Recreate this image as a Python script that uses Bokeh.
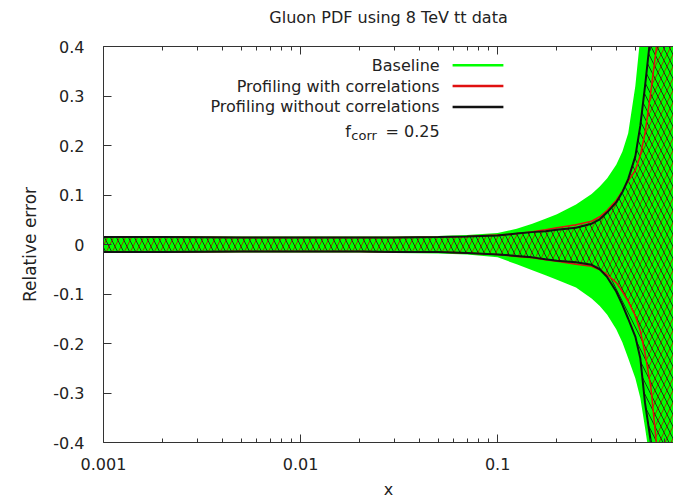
from bokeh.plotting import figure
from bokeh.models import FixedTicker, Label, Arrow, Range1d, LogAxis
from bokeh.embed import file_html
from bokeh.resources import INLINE

# ---------------- data ----------------
x = [0.001, 0.002, 0.005, 0.01, 0.02, 0.03, 0.05, 0.07, 0.1, 0.125, 0.15, 0.175, 0.2, 0.25,
     0.3, 0.33, 0.36, 0.4, 0.43, 0.46, 0.5, 0.53, 0.56, 0.6, 0.65, 0.7, 0.75, 0.8]

baseline_hi = [0.017, 0.017, 0.016, 0.016, 0.016, 0.016, 0.017, 0.019, 0.023, 0.032, 0.042, 0.052, 0.061, 0.081,
               0.102, 0.117, 0.134, 0.161, 0.188, 0.225, 0.32, 0.42, 0.55, 0.75, 1.0, 1.3, 1.6, 2.0]
baseline_lo = [-0.017, -0.017, -0.016, -0.016, -0.016, -0.017, -0.018, -0.020, -0.026, -0.040, -0.052, -0.062, -0.071, -0.087,
               -0.109, -0.124, -0.142, -0.171, -0.198, -0.230, -0.270, -0.31, -0.37, -0.45, -0.6, -0.8, -1.0, -1.2]

corr_hi = [0.015, 0.015, 0.014, 0.014, 0.014, 0.014, 0.015, 0.016, 0.019, 0.022, 0.026, 0.030, 0.034, 0.040,
           0.047, 0.056, 0.069, 0.089, 0.108, 0.128, 0.150, 0.18, 0.225, 0.31, 0.42, 0.6, 0.8, 1.0]
corr_lo = [-0.015, -0.015, -0.014, -0.014, -0.014, -0.015, -0.015, -0.017, -0.020, -0.024, -0.027, -0.031, -0.034, -0.040,
           -0.044, -0.051, -0.061, -0.077, -0.095, -0.115, -0.144, -0.175, -0.22, -0.29, -0.43, -0.6, -0.8, -1.0]

nocorr_hi = [0.015, 0.015, 0.014, 0.014, 0.014, 0.014, 0.015, 0.016, 0.018, 0.022, 0.025, 0.027, 0.030, 0.034,
             0.042, 0.051, 0.065, 0.085, 0.106, 0.132, 0.178, 0.24, 0.32, 0.43, 0.6, 0.8, 1.0, 1.2]
nocorr_lo = [-0.015, -0.015, -0.014, -0.014, -0.014, -0.015, -0.015, -0.017, -0.020, -0.023, -0.026, -0.030, -0.033, -0.036,
             -0.041, -0.050, -0.066, -0.095, -0.122, -0.150, -0.186, -0.23, -0.32, -0.40, -0.55, -0.7, -0.85, -1.0]

x_major_ticks = [0.001, 0.01, 0.1]
x_tick_labels = ["0.001", "0.01", "0.1"]
x_minor_ticks = [0.002, 0.003, 0.004, 0.005, 0.006, 0.007, 0.008, 0.009,
                 0.02, 0.03, 0.04, 0.05, 0.06, 0.07, 0.08, 0.09,
                 0.2, 0.3, 0.4, 0.5, 0.6, 0.7]
y_ticks = [-0.4, -0.3, -0.2, -0.1, 0.0, 0.1, 0.2, 0.3, 0.4]
y_tick_labels = ["-0.4", "-0.3", "-0.2", "-0.1", "0", "0.1", "0.2", "0.3", "0.4"]

title_text = "Gluon PDF using 8 TeV tt data"
series_names = ["Baseline", "Profiling with correlations", "Profiling without correlations"]
fcorr_value = "0.25"

# ---------------- styling ----------------
FONT = "DejaVu Sans"
TXT = "#222222"
GREEN = "#00ff00"
RED = "#e01010"
BLACK = "#111111"

p = figure(width=673, height=501, x_axis_type="log",
           x_range=Range1d(0.001, 0.781), y_range=Range1d(-0.4, 0.4),
           output_backend="svg", toolbar_location=None,
           min_border_left=103, min_border_right=0, min_border_top=46, min_border_bottom=59)
p.outline_line_color = None
p.grid.visible = False
p.background_fill_color = "white"
p.border_fill_color = "white"

# bottom x axis
xa = p.xaxis[0]
xa.ticker = FixedTicker(ticks=x_major_ticks, minor_ticks=x_minor_ticks)
xa.major_label_overrides = {t: s for t, s in zip(x_major_ticks, x_tick_labels)}
xa.major_tick_in = 8
xa.major_tick_out = 0
xa.minor_tick_in = 4
xa.minor_tick_out = 0
xa.major_label_standoff = 15
xa.major_label_text_font = FONT
xa.major_label_text_font_size = "16px"
xa.major_label_text_color = TXT
xa.axis_label = "x"
xa.axis_label_text_font = FONT
xa.axis_label_text_font_size = "16px"
xa.axis_label_text_font_style = "normal"
xa.axis_label_text_color = TXT
xa.axis_label_standoff = 7
xa.axis_line_color = "#333333"
xa.major_tick_line_color = "#333333"
xa.minor_tick_line_color = "#333333"

# left y axis
ya = p.yaxis[0]
ya.ticker = FixedTicker(ticks=y_ticks)
ya.major_label_overrides = {t: s for t, s in zip(y_ticks, y_tick_labels)}
ya.major_tick_in = 8
ya.major_tick_out = 0
ya.minor_tick_line_color = None
ya.major_label_standoff = 19
ya.major_label_text_font = FONT
ya.major_label_text_font_size = "16px"
ya.major_label_text_color = TXT
ya.axis_label = "Relative error"
ya.axis_label_text_font = FONT
ya.axis_label_text_font_size = "17px"
ya.axis_label_text_font_style = "normal"
ya.axis_label_text_color = TXT
ya.axis_label_standoff = 10
ya.axis_line_color = "#333333"
ya.major_tick_line_color = "#333333"

# top mirrored axis (ticks only); its axis label carries the chart title
top = LogAxis(ticker=FixedTicker(ticks=x_major_ticks, minor_ticks=x_minor_ticks),
              major_tick_in=8, major_tick_out=0, minor_tick_in=4, minor_tick_out=0,
              major_label_text_font_size="2px", major_label_text_alpha=0.0, major_label_standoff=0,
              axis_line_color="#333333", major_tick_line_color="#333333",
              minor_tick_line_color="#333333",
              axis_label=title_text, axis_label_text_font=FONT, axis_label_text_font_size="16px",
              axis_label_text_font_style="normal", axis_label_text_color=TXT,
              axis_label_standoff=20)
p.add_layout(top, "above")

# ---------------- bands ----------------
p.varea(x=x, y1=baseline_lo, y2=baseline_hi, fill_color=GREEN, fill_alpha=1.0)
p.varea(x=x, y1=corr_lo, y2=corr_hi, fill_color=None, fill_alpha=0,
        hatch_pattern="/", hatch_color="#a03000", hatch_scale=12, hatch_weight=1.0, hatch_alpha=0.9)
p.varea(x=x, y1=nocorr_lo, y2=nocorr_hi, fill_color=None, fill_alpha=0,
        hatch_pattern="\\", hatch_color="#1a1a1a", hatch_scale=12, hatch_weight=1.0, hatch_alpha=0.85)

for ys in (corr_hi, corr_lo):
    p.line(x, ys, line_color=RED, line_width=1.5)
for ys in (nocorr_hi, nocorr_lo):
    p.line(x, ys, line_color=BLACK, line_width=2)

# ---------------- legend (text left, sample line right) ----------------
leg_text_x = 0.0508
leg_line_x0 = 0.0591
leg_line_x1 = 0.107
leg_rows_y = [0.362, 0.320, 0.278]
leg_colors = [GREEN, RED, BLACK]
for name, yy, col in zip(series_names, leg_rows_y, leg_colors):
    p.add_layout(Label(x=leg_text_x, y=yy, text=name, text_align="right", text_baseline="middle",
                       text_font=FONT, text_font_size="16px", text_color=TXT))
    p.add_layout(Arrow(end=None, x_start=leg_line_x0, y_start=yy, x_end=leg_line_x1, y_end=yy,
                       line_color=col, line_width=2.5))

fc_base_y = 0.229
p.add_layout(Label(x=leg_text_x, y=fc_base_y, text="= " + fcorr_value, text_align="right",
                   text_baseline="alphabetic", text_font=FONT, text_font_size="16px", text_color=TXT))
p.add_layout(Label(x=0.0180, y=fc_base_y, text="f", text_align="right",
                   text_baseline="alphabetic", text_font=FONT, text_font_size="16px", text_color=TXT))
p.add_layout(Label(x=0.0181, y=fc_base_y - 0.009, text="corr", text_align="left",
                   text_baseline="alphabetic", text_font=FONT, text_font_size="13px", text_color=TXT))

open("out.html", "w").write(file_html(p, INLINE))
